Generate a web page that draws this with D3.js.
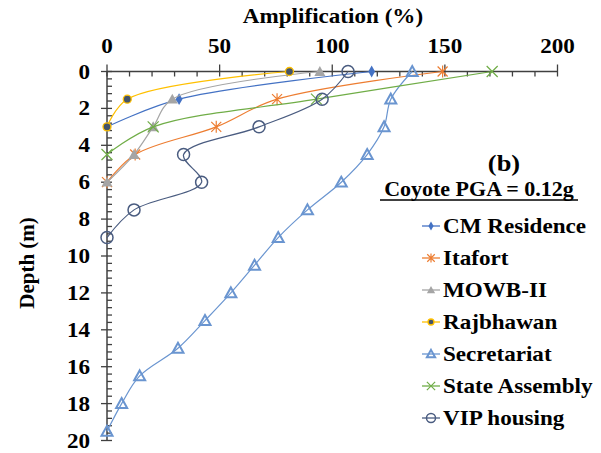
<!DOCTYPE html>
<html><head><meta charset="utf-8">
<script src="https://cdn.jsdelivr.net/npm/d3@7"></script>
<style>body{margin:0;background:#fff}svg{display:block}</style>
</head><body>
<svg id="c" width="601" height="453"></svg>
<script>
const depths = [0,1.5,3,4.5,6,7.5,9,10.5,12,13.5,15,16.5,18,19.5];
const seriesNames = ["CM Residence","Itafort","MOWB-II","Rajbhawan","Secretariat","State Assembly","VIP housing"];
const cmResidence = [117.5, 32, 0];
const itafort = [149, 75.5, 48.5, 12.5, 0];
const mowb = [94.5, 29, 20.5, 12, 0];
const rajbhawan = [81, 9, 0];
const secretariat = [135.5, 126, 123, 115.5, 104, 89, 76, 65.5, 55, 43.5, 31.5, 14.5, 6.5, 0];
const stateAssembly = [171, 93, 20.5, 0];
const vipHousing = [107, 95.5, 67.5, 34, 42, 12, 0];
const xTicks = [0,50,100,150,200];
const yTicks = [0,2,4,6,8,10,12,14,16,18,20];

const FONT = "'Liberation Serif', 'DejaVu Serif', 'Times New Roman', serif";
const STRETCH = 1.1;
const styles = [
  {color:"#4472C4", marker:"diamond"},
  {color:"#ED7D31", marker:"asterisk"},
  {color:"#A5A5A5", marker:"triangleFill"},
  {color:"#FFC000", marker:"dot", fill:"#44546A"},
  {color:"#6A95D0", marker:"triangleOpen"},
  {color:"#70AD47", marker:"cross"},
  {color:"#4A5C80", marker:"circleOpen"}
];
const allValues = [cmResidence, itafort, mowb, rajbhawan, secretariat, stateAssembly, vipHousing];

const svg = d3.select("#c");
const x = d3.scaleLinear().domain([0,200]).range([107,557.5]);
const y = d3.scaleLinear().domain([0,20]).range([71.5,440.5]);
const axisColor = "#404040";

function stretch(t){
  const n = t.node();
  const w = n.getComputedTextLength();
  t.attr("textLength", w*STRETCH).attr("lengthAdjust","spacingAndGlyphs");
  return t;
}
function txt(xx, yy, s, size, anchor){
  const t = svg.append("text").attr("x",xx).attr("y",yy).attr("text-anchor",anchor||"start")
    .attr("font-family",FONT).attr("font-weight","bold").attr("font-size",size).attr("fill","#000").text(s);
  return stretch(t);
}

svg.append("line").attr("x1",x(0)).attr("x2",x(200)).attr("y1",y(0)).attr("y2",y(0)).attr("stroke",axisColor).attr("stroke-width",1.5);
svg.append("line").attr("x1",x(0)).attr("x2",x(0)).attr("y1",y(0)).attr("y2",y(20)).attr("stroke",axisColor).attr("stroke-width",1.5);

d3.range(0,201,10).forEach(v=>{
  const major = v%50===0;
  svg.append("line").attr("x1",x(v)).attr("x2",x(v))
    .attr("y1",major?y(0)-7:y(0)).attr("y2",y(0)+5)
    .attr("stroke",axisColor).attr("stroke-width",1.3);
});
xTicks.forEach(v=>{ txt(x(v),53,v,21,"middle"); });
d3.range(0,51).map(i=>i*0.4).forEach(v=>{
  const major = Math.abs(v/2-Math.round(v/2))<1e-6;
  svg.append("line").attr("x1",major?x(0)-6:x(0)).attr("x2",x(0)+5)
    .attr("y1",y(v)).attr("y2",y(v)).attr("stroke",axisColor).attr("stroke-width",1.3);
});
yTicks.forEach(v=>{ txt(90,y(v)+7,v,21,"end"); });

txt(333,23,"Amplification (%)",21,"middle");
svg.append("text").attr("transform","translate(34,263) rotate(-90)").attr("text-anchor","middle")
  .attr("font-family",FONT).attr("font-weight","bold").attr("font-size",21).text("Depth (m)");

function drawMarker(g, type, cx, cy, st, s){
  s = s||1;
  const c = st.color;
  if(type==="diamond"){
    g.append("path").attr("d",d3.symbol(d3.symbolDiamond, 40*s*s)()).attr("transform",`translate(${cx},${cy})`).attr("fill",c);
  } else if(type==="asterisk"){
    const r=5*s;
    g.append("path").attr("d",`M${cx-r},${cy-r}L${cx+r},${cy+r}M${cx-r},${cy+r}L${cx+r},${cy-r}M${cx},${cy-r*1.2}L${cx},${cy+r*1.2}`).attr("stroke",c).attr("stroke-width",1.2).attr("fill","none");
  } else if(type==="triangleFill"){
    const r=5.5*s;
    g.append("path").attr("d",`M${cx},${cy-r}L${cx+r},${cy+r*0.8}L${cx-r},${cy+r*0.8}Z`).attr("fill",c);
  } else if(type==="dot"){
    g.append("circle").attr("cx",cx).attr("cy",cy).attr("r",4*s).attr("fill",st.fill).attr("stroke",c).attr("stroke-width",1.3);
  } else if(type==="triangleOpen"){
    const r=5.5*s;
    g.append("path").attr("d",`M${cx},${cy-r}L${cx+r},${cy+r*0.8}L${cx-r},${cy+r*0.8}Z`).attr("fill","none").attr("stroke",c).attr("stroke-width",2);
  } else if(type==="cross"){
    const r=5.5*s;
    g.append("path").attr("d",`M${cx-r},${cy-r}L${cx+r},${cy+r}M${cx-r},${cy+r}L${cx+r},${cy-r}`).attr("stroke",c).attr("stroke-width",1.2).attr("fill","none");
  } else if(type==="circleOpen"){
    g.append("circle").attr("cx",cx).attr("cy",cy).attr("r",6*s).attr("fill","none").attr("stroke",c).attr("stroke-width",1.5);
  }
}

const line = d3.line().x(d=>x(d[0])).y(d=>y(d[1])).curve(d3.curveCatmullRom.alpha(0.5));
allValues.forEach((vals,i)=>{
  const st = styles[i];
  const pts = vals.map((v,j)=>[v,depths[j]]);
  const g = svg.append("g");
  g.append("path").attr("d",line(pts)).attr("fill","none").attr("stroke",st.color).attr("stroke-width",1.2);
  pts.forEach(p=>drawMarker(g, st.marker, x(p[0]), y(p[1]), st, 1));
});

txt(504,171,"(b)",24,"middle");
txt(479,196,"Coyote PGA = 0.12g",20,"middle");
svg.append("line").attr("x1",380).attr("x2",578).attr("y1",200).attr("y2",200).attr("stroke","#000").attr("stroke-width",1.5);

seriesNames.forEach((n,i)=>{
  const yy = 226 + i*32;
  const st = styles[i];
  const g = svg.append("g");
  g.append("line").attr("x1",422).attr("x2",440).attr("y1",yy).attr("y2",yy).attr("stroke",st.color).attr("stroke-width",1.3);
  drawMarker(g, st.marker, 431, yy, st, 0.75);
  txt(443,yy+7,n,21);
});
</script>
</body></html>
